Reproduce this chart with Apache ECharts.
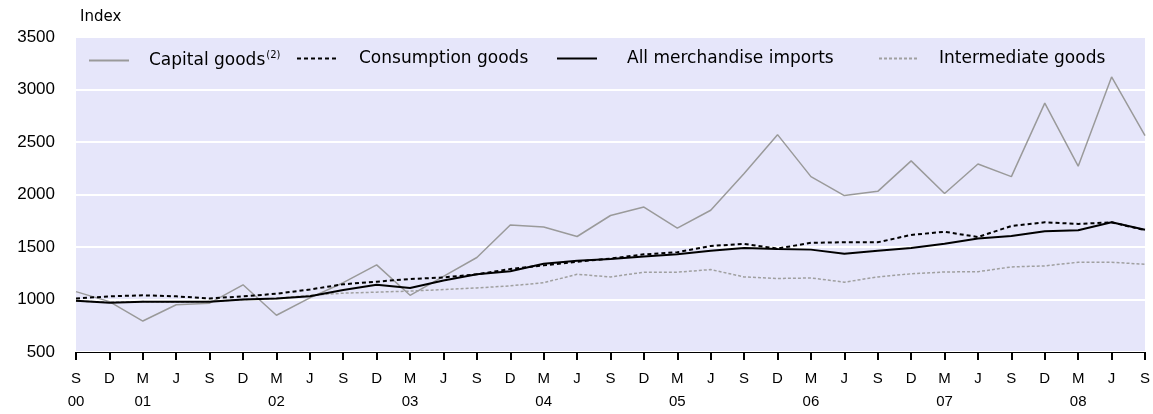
<!DOCTYPE html>
<html>
<head>
<meta charset="utf-8">
<script src="https://cdn.jsdelivr.net/npm/echarts@6/dist/echarts.min.js"></script>
<style>html,body{margin:0;padding:0;background:#fff;}#c{width:1153px;height:414px;}</style>
</head>
<body>
<div id="c"></div>
<script>
const months = ['S','D','M','J','S','D','M','J','S','D','M','J','S','D','M','J','S','D','M','J','S','D','M','J','S','D','M','J','S','D','M','J','S'];
const years  = ['00','','01','','','','02','','','','03','','','','04','','','','05','','','','06','','','','07','','','','08','',''];
const yTicks = [500, 1000, 1500, 2000, 2500, 3000, 3500];
const capital = [1075,980,795,950,965,1140,850,1015,1160,1330,1040,1220,1400,1710,1690,1600,1800,1880,1680,1850,2200,2570,2170,1990,2030,2320,2010,2290,2170,2870,2270,3120,2560];
const consumption = [1010,1030,1040,1030,1010,1030,1055,1095,1145,1170,1195,1210,1240,1290,1325,1360,1390,1430,1450,1510,1530,1485,1540,1545,1545,1615,1645,1595,1700,1735,1720,1735,1660];
const merchandise = [988,970,978,978,978,1000,1010,1030,1090,1140,1110,1180,1240,1270,1340,1370,1385,1410,1430,1465,1490,1480,1475,1435,1465,1490,1530,1580,1605,1650,1660,1735,1665];
const intermediate = [985,975,980,975,980,1000,1010,1040,1060,1070,1080,1095,1110,1130,1160,1240,1215,1260,1260,1285,1215,1200,1205,1165,1215,1245,1262,1265,1310,1320,1355,1355,1335];
const names = ['Capital goods','Consumption goods','All merchandise imports','Intermediate goods'];

const cats = months.map((m, i) => m + '\n' + years[i]);
function legendFont(gap) {
  return {fontFamily: 'DejaVu Sans', fontSize: 17, color: '#000', padding: [0,0,0,gap]};
}
function leg(name, left, gap, extra) {
  return Object.assign({
    data: [name], left: left, top: 50, padding: 0, itemWidth: 40, itemHeight: 14, itemGap: 0,
    textStyle: legendFont(gap), selectedMode: false,
    itemStyle: {opacity: 0, borderWidth: 0}
  }, extra || {});
}
const chart = echarts.init(document.getElementById('c'), null, {renderer: 'canvas'});
chart.setOption({
  animation: false,
  backgroundColor: '#ffffff',
  grid: {left: 76, right: 6, top: 37, bottom: 62, show: true, backgroundColor: '#e6e6fa', borderWidth: 0},
  legend: [
    leg(names[0], 88, 15, {
      formatter: '{a|Capital goods}{s|(2)}',
      textStyle: Object.assign({}, legendFont(15), {rich: {
        a: {fontFamily: 'DejaVu Sans', fontSize: 17, color: '#000'},
        s: {fontFamily: 'DejaVu Sans', fontSize: 10, color: '#000', padding: [0,0,11,1]}
      }})
    }),
    leg(names[1], 296, 17),
    leg(names[2], 556, 25),
    leg(names[3], 878, 15)
  ],
  xAxis: {
    type: 'category', data: cats, boundaryGap: false,
    axisLine: {lineStyle: {color: '#000', width: 1}},
    axisTick: {length: 8, lineStyle: {color: '#000', width: 2}, interval: 0},
    axisLabel: {interval: 0, margin: 15, fontFamily: 'Liberation Sans', fontSize: 15, color: '#000', lineHeight: 23},
    splitLine: {show: false}
  },
  yAxis: {
    type: 'value', min: yTicks[0], max: yTicks[yTicks.length-1], interval: 500,
    name: 'Index', nameLocation: 'end', nameGap: 12,
    nameTextStyle: {fontFamily: 'DejaVu Sans', fontSize: 15, color: '#000', align: 'left', padding: [0,0,0,4]},
    axisLine: {show: false}, axisTick: {show: false},
    axisLabel: {margin: 21, fontFamily: 'Liberation Sans', fontSize: 17, color: '#000', formatter: v => String(v)},
    splitLine: {lineStyle: {color: '#ffffff', width: 2}}
  },
  series: [
    {name: names[0], type: 'line', data: capital, symbol: 'none', lineStyle: {color: '#9a9a9a', width: 1.5}, itemStyle: {color: '#9a9a9a'}, z: 2},
    {name: names[1], type: 'line', data: consumption, symbol: 'none', lineStyle: {color: '#000', width: 2, type: [4,3]}, itemStyle: {color: '#000'}, z: 4},
    {name: names[2], type: 'line', data: merchandise, symbol: 'none', lineStyle: {color: '#000', width: 2}, itemStyle: {color: '#000'}, z: 3},
    {name: names[3], type: 'line', data: intermediate, symbol: 'none', lineStyle: {color: '#a0a0a0', width: 1.5, type: [3,2]}, itemStyle: {color: '#a0a0a0'}, z: 2}
  ]
});
</script>
</body>
</html>
